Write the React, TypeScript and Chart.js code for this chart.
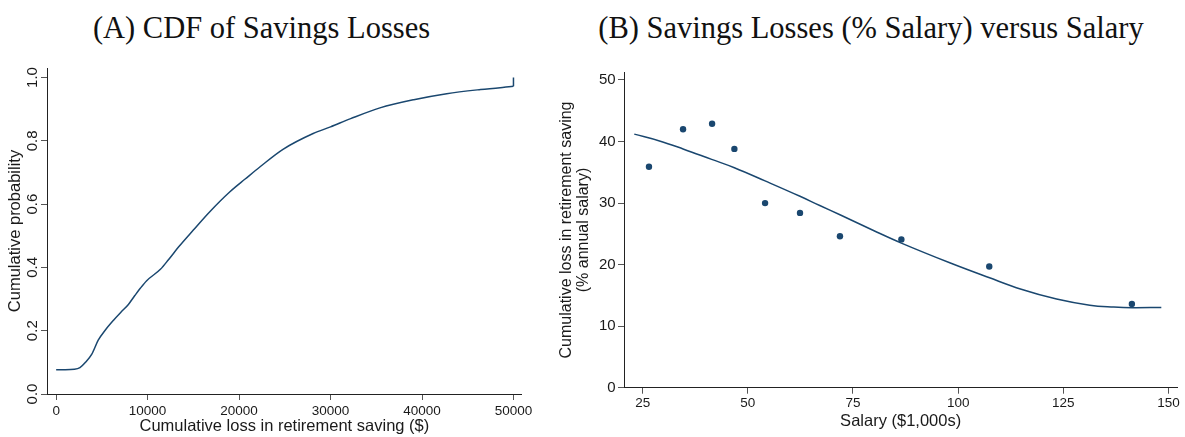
import React, { useEffect, useRef } from "react";
import { Chart, registerables } from "chart.js";

Chart.register(...registerables);

// Panel A: empirical CDF of cumulative savings losses (last pair is the jump to 1 at the cap)
const LOSS_USD = [
  0, 1000, 2000, 2600, 3200, 3900, 4600, 5400, 6300, 7100, 7900, 8600, 9200, 9900,
  11400, 12300, 13400, 15000, 16800, 19000, 20700, 22300, 24800, 28100, 30000, 32200,
  35400, 39100, 42700, 46400, 50000, 50000,
];
const CUM_PROB = [
  0.077, 0.077, 0.078, 0.083, 0.1, 0.126, 0.17, 0.203, 0.234, 0.259, 0.283, 0.311, 0.334,
  0.358, 0.394, 0.425, 0.465, 0.518, 0.576, 0.639, 0.68, 0.718, 0.773, 0.823, 0.844, 0.87,
  0.904, 0.93, 0.949, 0.962, 0.972, 1.0,
];
const A_X_TICKS = [0, 10000, 20000, 30000, 40000, 50000];
const A_Y_TICKS = [0, 0.2, 0.4, 0.6, 0.8, 1.0];
const A_Y_LABELS = ["0.0", "0.2", "0.4", "0.6", "0.8", "1.0"];

// Panel B: binned losses (% of salary) and fitted curve
const SALARY_K = [26.5, 34.6, 41.5, 46.8, 54.1, 62.4, 71.9, 86.5, 107.4, 141.3];
const LOSS_PCT = [35.9, 42.0, 42.9, 38.8, 30.0, 28.4, 24.6, 24.1, 19.7, 13.6];
const FIT_SALARY = [
  23.0, 29, 34.6, 41.4, 46.8, 54.1, 62.4, 67.1, 71.9, 80, 86.5, 98.0, 107.3, 115, 123.4,
  131.3, 137, 141.4, 148.3,
];
const FIT_LOSS = [
  41.2, 40.1, 38.8, 37.1, 35.75, 33.6, 31.1, 29.6, 28.1, 25.5, 23.5, 20.3, 17.9, 16.0, 14.4,
  13.4, 13.1, 13.0, 13.05,
];
const B_X_TICKS = [25, 50, 75, 100, 125, 150];
const B_Y_TICKS = [0, 10, 20, 30, 40, 50];

const NAVY = "#1a476f";
const TXT = "#1a1a1a";
const AXIS = "#222";
const TICKC = "#555";
const SANS = "'Liberation Sans', Arial, Helvetica, sans-serif";
const SERIF = "'Liberation Serif', 'Times New Roman', serif";

const setTicks = (values: number[]) => (s: any) => {
  s.ticks = values.map((v) => ({ value: v }));
};

// Vertical (rotated) tick labels for the left axis of panel A
const rotatedYLabels = {
  id: "rotatedYLabels",
  afterDraw(chart: any) {
    const s = chart.scales.y;
    const c = chart.ctx;
    c.save();
    c.font = `15px ${SANS}`;
    c.fillStyle = TXT;
    c.textAlign = "center";
    c.textBaseline = "alphabetic";
    A_Y_TICKS.forEach((v, i) => {
      const y = s.getPixelForValue(v);
      c.save();
      c.translate(s.right - 9.7, y);
      c.rotate(-Math.PI / 2);
      c.fillText(A_Y_LABELS[i], 0, 0);
      c.restore();
    });
    c.restore();
  },
};

function buildCdf(canvas: HTMLCanvasElement) {
  const pts = LOSS_USD.map((x, i) => ({ x, y: CUM_PROB[i] }));
  const curve = pts.slice(0, pts.length - 1);
  const jump = pts.slice(pts.length - 2);
  return new Chart(canvas, {
    type: "scatter",
    data: {
      datasets: [
        {
          data: curve,
          showLine: true,
          borderColor: NAVY,
          borderWidth: 1.5,
          pointRadius: 0,
          cubicInterpolationMode: "monotone",
        },
        {
          data: jump,
          showLine: true,
          borderColor: NAVY,
          borderWidth: 1.5,
          pointRadius: 0,
          tension: 0,
        },
      ],
    },
    options: {
      animation: false,
      responsive: false,
      maintainAspectRatio: false,
      layout: { padding: { top: 28, right: 23.3, left: 0, bottom: 0 } },
      plugins: { legend: { display: false }, tooltip: { enabled: false } },
      scales: {
        x: {
          type: "linear",
          min: -1000,
          max: 50900,
          afterBuildTicks: setTicks(A_X_TICKS),
          afterFit: (s: any) => {
            s.height = 43;
          },
          grid: { display: true, drawOnChartArea: false, drawTicks: true, tickLength: 6, color: TICKC },
          border: { display: true, color: AXIS, width: 1 },
          ticks: {
            autoSkip: false,
            maxRotation: 0,
            padding: 3,
            color: TXT,
            font: { family: SANS, size: 13.5 },
            callback: (v: any) => String(v),
          },
          title: {
            display: true,
            text: "Cumulative loss in retirement saving ($)",
            color: TXT,
            font: { family: SANS, size: 16.5 },
            padding: { top: 0, bottom: 1 },
          },
        },
        y: {
          type: "linear",
          min: 0,
          max: 1.03,
          afterBuildTicks: setTicks(A_Y_TICKS),
          afterFit: (s: any) => {
            s.width = 47;
          },
          grid: { display: true, drawOnChartArea: false, drawTicks: true, tickLength: 6, color: TICKC },
          border: { display: true, color: AXIS, width: 1 },
          ticks: { display: false },
          title: {
            display: true,
            text: "Cumulative probability",
            color: TXT,
            font: { family: SANS, size: 16.5 },
            padding: { top: 6, bottom: 0 },
          },
        },
      },
    },
    plugins: [rotatedYLabels],
  });
}

function buildScatter(canvas: HTMLCanvasElement) {
  return new Chart(canvas, {
    type: "scatter",
    data: {
      datasets: [
        {
          data: FIT_SALARY.map((x, i) => ({ x, y: FIT_LOSS[i] })),
          showLine: true,
          borderColor: NAVY,
          borderWidth: 1.5,
          pointRadius: 0,
          tension: 0.4,
        },
        {
          data: SALARY_K.map((x, i) => ({ x, y: LOSS_PCT[i] })),
          showLine: false,
          pointRadius: 3.2,
          pointBackgroundColor: NAVY,
          pointBorderColor: NAVY,
          pointBorderWidth: 0,
        },
      ],
    },
    options: {
      animation: false,
      responsive: false,
      maintainAspectRatio: false,
      layout: { padding: { top: 32.3, right: 7.7, left: 0, bottom: 0 } },
      plugins: { legend: { display: false }, tooltip: { enabled: false } },
      scales: {
        x: {
          type: "linear",
          min: 20.56,
          max: 152.1,
          afterBuildTicks: setTicks(B_X_TICKS),
          afterFit: (s: any) => {
            s.height = 49.3;
          },
          grid: { display: true, drawOnChartArea: false, drawTicks: true, tickLength: 6, color: TICKC },
          border: { display: true, color: AXIS, width: 1 },
          ticks: {
            autoSkip: false,
            maxRotation: 0,
            padding: 1.6,
            color: TXT,
            font: { family: SANS, size: 13.5 },
            callback: (v: any) => String(v),
          },
          title: {
            display: true,
            text: "Salary ($1,000s)",
            color: TXT,
            font: { family: SANS, size: 16.5 },
            padding: { top: 0, bottom: 6 },
          },
        },
        y: {
          type: "linear",
          min: 0,
          max: 51.25,
          afterBuildTicks: setTicks(B_Y_TICKS),
          afterFit: (s: any) => {
            s.width = 79;
          },
          grid: { display: true, drawOnChartArea: false, drawTicks: true, tickLength: 6, color: TICKC },
          border: { display: true, color: AXIS, width: 1 },
          ticks: {
            padding: 2.3,
            color: TXT,
            font: { family: SANS, size: 15 },
            callback: (v: any) => String(v),
          },
          title: {
            display: true,
            text: ["Cumulative loss in retirement saving", "(% annual salary)"],
            color: TXT,
            font: { family: SANS, size: 16, lineHeight: 1.05 },
            padding: { top: 13.3, bottom: 0 },
          },
        },
      },
    },
  });
}

function ChartCanvas({
  build,
  left,
  width,
}: {
  build: (c: HTMLCanvasElement) => Chart;
  left: number;
  width: number;
}) {
  const ref = useRef<HTMLCanvasElement>(null);
  useEffect(() => {
    const chart = build(ref.current as HTMLCanvasElement);
    return () => chart.destroy();
  }, [build]);
  return (
    <canvas
      ref={ref}
      width={width}
      height={397}
      style={{ position: "absolute", left, top: 40, width, height: 397 }}
    />
  );
}

const titleStyle = (center: number): React.CSSProperties => ({
  position: "absolute",
  left: center - 320,
  width: 640,
  top: 13,
  textAlign: "center",
  fontFamily: SERIF,
  fontSize: 30.5,
  lineHeight: "30px",
  color: "#111",
  whiteSpace: "nowrap",
});

export default function App() {
  return (
    <div
      style={{
        position: "absolute",
        left: 0,
        top: 0,
        width: 1185,
        height: 437,
        background: "#fff",
        overflow: "hidden",
      }}
    >
      <div style={titleStyle(261.5)}>(A) CDF of Savings Losses</div>
      <div style={titleStyle(871)}>(B) Savings Losses (% Salary) versus Salary</div>
      <ChartCanvas build={buildCdf} left={0} width={545} />
      <ChartCanvas build={buildScatter} left={545} width={640} />
    </div>
  );
}
